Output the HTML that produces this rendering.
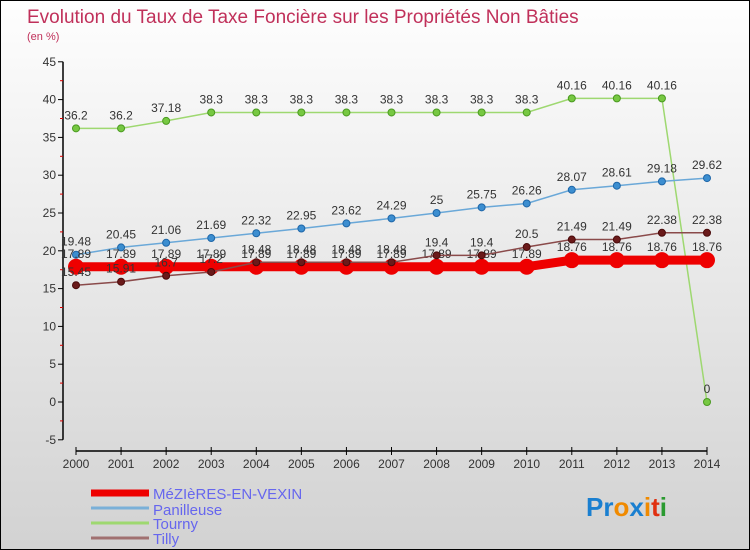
<!DOCTYPE html>
<html><head><meta charset="utf-8"><style>
html,body{margin:0;padding:0}
body{width:750px;height:550px;overflow:hidden;font-family:"Liberation Sans",sans-serif}
#wrap{position:relative;width:748px;height:548px;border:1px solid #000;background:linear-gradient(#fefefe,#d2d2d2)}
</style></head><body>
<div id="wrap">
<svg id="chart" width="748" height="548" style="position:absolute;left:0;top:0">
<text x="26" y="22" font-size="19" fill="#c0305a">Evolution du Taux de Taxe Foncière sur les Propriétés Non Bâties</text>
<text x="26" y="39" font-size="11" fill="#c0305a">(en %)</text>
<g id="axes"></g><g id="series"></g>
<g>
<line x1="90" y1="492" x2="148" y2="492" stroke="#e00" stroke-width="7"/>
<text x="152" y="498" font-size="15" fill="#6666ee">MéZIèRES-EN-VEXIN</text>
<line x1="90" y1="507" x2="148" y2="507" stroke="#7ab0d8" stroke-width="3"/>
<text x="152" y="514" font-size="15" fill="#6666ee">Panilleuse</text>
<line x1="90" y1="522" x2="148" y2="522" stroke="#9ed870" stroke-width="3"/>
<text x="152" y="528" font-size="15" fill="#6666ee">Tourny</text>
<line x1="90" y1="537" x2="148" y2="537" stroke="#a07070" stroke-width="3"/>
<text x="152" y="543" font-size="15" fill="#6666ee">Tilly</text>
</g>
<g font-size="26" font-weight="bold">
<text x="585" y="515"><tspan fill="#1a7fd0">Pr</tspan><tspan fill="#f08a00">o</tspan><tspan fill="#1a7fd0">x</tspan><tspan fill="#f08a00">i</tspan><tspan fill="#e03010">t</tspan><tspan fill="#2a9a30">i</tspan></text>
</g>
</svg>
</div>
<script>
const years=[2000,2001,2002,2003,2004,2005,2006,2007,2008,2009,2010,2011,2012,2013,2014];
const yTicks=[-5,0,5,10,15,20,25,30,35,40,45];
const mezieres=[17.89,17.89,17.89,17.89,17.89,17.89,17.89,17.89,17.89,17.89,17.89,18.76,18.76,18.76,18.76];
const panilleuse=[19.48,20.45,21.06,21.69,22.32,22.95,23.62,24.29,25,25.75,26.26,28.07,28.61,29.18,29.62];
const tourny=[36.2,36.2,37.18,38.3,38.3,38.3,38.3,38.3,38.3,38.3,38.3,40.16,40.16,40.16,0];
const tilly=[15.45,15.91,16.7,17.2,18.48,18.48,18.48,18.48,19.4,19.4,20.5,21.49,21.49,22.38,22.38];
const NS="http://www.w3.org/2000/svg";
const xs=i=>75+i*(631/14);
const ys=v=>401-v*7.56;
function mk(tag,attrs,parent){const e=document.createElementNS(NS,tag);for(const k in attrs)e.setAttribute(k,attrs[k]);parent.appendChild(e);return e;}
const ax=document.getElementById('axes');
let yl=mk('line',{x1:62,y1:ys(45),x2:62,y2:ys(-5),stroke:'#000','stroke-width':1.5},ax);


yTicks.forEach(t=>{
 mk('line',{x1:57,y1:ys(t),x2:62,y2:ys(t),stroke:'#000'},ax);
 if(t<45) mk('line',{x1:59,y1:ys(t+2.5),x2:62,y2:ys(t+2.5),stroke:'#d00'},ax);
 const tx=mk('text',{x:55,y:ys(t)+4,'text-anchor':'end','font-size':12,fill:'#333'},ax);
 tx.textContent=t;
 
 
});
let xl=mk('line',{x1:xs(0),y1:450,x2:xs(14),y2:450,stroke:'#000','stroke-width':1.5},ax);


years.forEach((y,i)=>{
 mk('line',{x1:xs(i),y1:446,x2:xs(i),y2:454,stroke:'#000'},ax);
 const tx=mk('text',{x:xs(i),y:467,'text-anchor':'middle','font-size':12,fill:'#333'},ax);
 tx.textContent=y;
 
 
});
const sg=document.getElementById('series');
function series(vals,color,w,r,name,lab){
 const g=mk('g',{},sg);
 
 
 const pl=mk('polyline',{points:vals.map((v,i)=>xs(i)+','+ys(v)).join(' '),fill:'none',stroke:color,'stroke-width':w},g);
 
 
 vals.forEach((v,i)=>{
  const c=mk('circle',{cx:xs(i),cy:ys(v),r:r,fill:lab.dot,stroke:lab.dotStroke,'stroke-width':1},g);
  
  
  const t=mk('text',{x:xs(i),y:ys(v)-9,'text-anchor':'middle','font-size':12,fill:'#333'},g);
  t.textContent=v;
  
  
 });
}
series(tourny,'#9ed870',1.5,3.5,'tourny',{dot:'#77c842',dotStroke:'#4a9a20'});
series(panilleuse,'#6aa8d8',1.5,3.5,'panilleuse',{dot:'#3c8ed0',dotStroke:'#1e66a8'});
series(mezieres,'#ee0000',9,7.5,'mezieres',{dot:'#ee0000',dotStroke:'#ee0000'});
series(tilly,'#8a4a4a',1.5,3.5,'tilly',{dot:'#6a1a1a',dotStroke:'#4a0a0a'});
</script>
</body></html>
